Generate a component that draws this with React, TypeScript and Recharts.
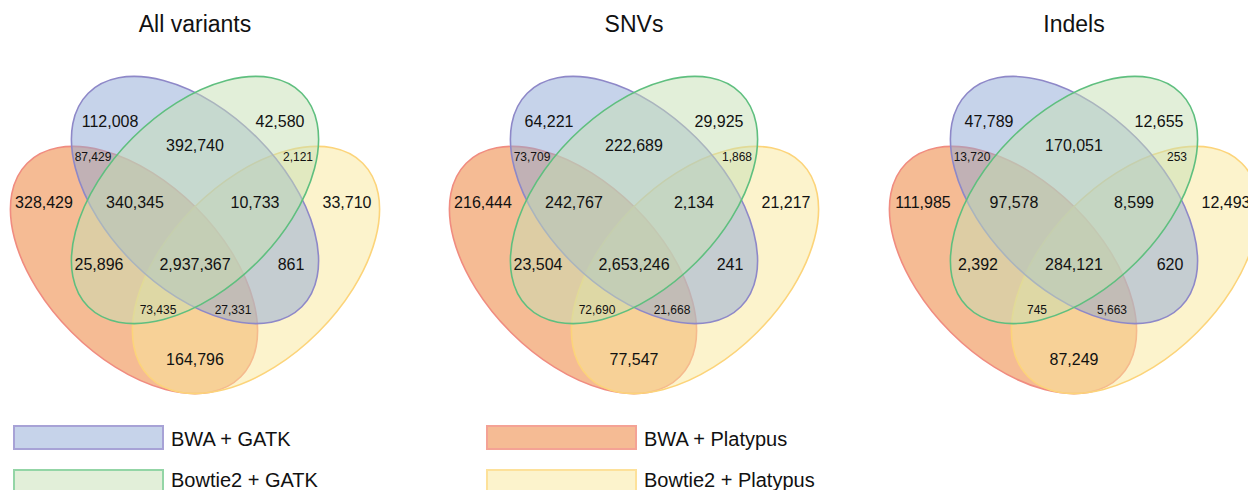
import React from "react";
import { ScatterChart, Scatter, XAxis, YAxis } from "recharts";

const panelTitles = ["All variants", "SNVs", "Indels"];

// region counts, same order as regionX / regionY below
const allVariants = [112008, 42580, 392740, 87429, 2121, 328429, 340345, 10733, 33710, 25896, 2937367, 861, 73435, 27331, 164796];
const snvs = [64221, 29925, 222689, 73709, 1868, 216444, 242767, 2134, 21217, 23504, 2653246, 241, 72690, 21668, 77547];
const indels = [47789, 12655, 170051, 13720, 253, 111985, 97578, 8599, 12493, 2392, 284121, 620, 745, 5663, 87249];
const panelValues = [allVariants, snvs, indels];

// where each region's number sits, in chart units from the middle of the top pair
const regionX = [-85, 85, 0, -102, 103, -151, -60, 60, 152, -96, 0, 96, -37, 38, 0];
const regionY = [79, 79, 55, 43, 43, -2, -2, -2, -2, -64, -64, -64, -110, -110, -159];
const smallRegions = [3, 4, 12, 13];

const setNames = ["BWA + GATK", "Bowtie2 + GATK", "BWA + Platypus", "Bowtie2 + Platypus"];

// drawing order: orange, yellow, blue, green
const ellipses = [
  { set: 2, x: -61, y: -70, angle: 45, fill: "#eb7729", stroke: "#f08c80" },
  { set: 3, x: 61, y: -70, angle: -45, fill: "#f9e799", stroke: "#fcd47a" },
  { set: 0, x: 0, y: 0, angle: 45, fill: "#8da7d5", stroke: "#8e88c8" },
  { set: 1, x: 0, y: 0, angle: -45, fill: "#c5dfb3", stroke: "#5fbf7f" },
];
const RX = 151;
const RY = 88;

const legendBoxes = [
  { bg: "#c6d3ea", border: "#a7a2d6" },
  { bg: "#e2efd9", border: "#93d5a6" },
  { bg: "#f5bb94", border: "#f4a295" },
  { bg: "#fcf3cc", border: "#fde19a" },
];

const CHART_W = 440;
const CHART_H = 410;
const X_DOMAIN: [number, number] = [-195, 245];
const Y_DOMAIN: [number, number] = [-210, 200];
const PX = CHART_W / (X_DOMAIN[1] - X_DOMAIN[0]);

const panelLeft = [0, 439, 879];
const font = "'Liberation Sans', Arial, Helvetica, sans-serif";

function VennPanel({ values }: { values: number[] }) {
  const labels = values.map((v, i) => ({
    x: regionX[i],
    y: regionY[i],
    text: v.toLocaleString("en-US"),
    small: smallRegions.includes(i),
  }));

  return (
    <ScatterChart width={CHART_W} height={CHART_H} margin={{ top: 0, right: 0, bottom: 0, left: 0 }}>
      <XAxis type="number" dataKey="x" domain={X_DOMAIN} hide />
      <YAxis type="number" dataKey="y" domain={Y_DOMAIN} hide />
      {ellipses.map((e) => (
        <Scatter
          key={e.set}
          name={setNames[e.set]}
          data={[{ x: e.x, y: e.y }]}
          isAnimationActive={false}
          shape={(p: any) => (
            <ellipse
              cx={p.cx}
              cy={p.cy}
              rx={RX * PX}
              ry={RY * PX}
              transform={`rotate(${e.angle} ${p.cx} ${p.cy})`}
              fill={e.fill}
              fillOpacity={0.5}
              stroke={e.stroke}
              strokeWidth={1.6}
            />
          )}
        />
      ))}
      <Scatter
        data={labels}
        isAnimationActive={false}
        shape={(p: any) => (
          <text
            x={p.cx}
            y={p.cy}
            dy="0.36em"
            textAnchor="middle"
            fontFamily={font}
            fontSize={p.payload.small ? 12 : 16}
            fill="#111"
          >
            {p.payload.text}
          </text>
        )}
      />
    </ScatterChart>
  );
}

export default function App() {
  return (
    <div
      style={{
        position: "absolute",
        left: 0,
        top: 0,
        width: 1248,
        height: 490,
        overflow: "hidden",
        background: "#fff",
        fontFamily: font,
        color: "#111",
      }}
    >
      {panelValues.map((vals, i) => (
        <div key={i} style={{ position: "absolute", left: panelLeft[i], top: 0, width: CHART_W, height: CHART_H }}>
          <VennPanel values={vals} />
          <div
            style={{
              position: "absolute",
              left: 0,
              top: 13,
              width: 390,
              textAlign: "center",
              fontSize: 23,
              lineHeight: "23px",
            }}
          >
            {panelTitles[i]}
          </div>
        </div>
      ))}
      {setNames.map((name, i) => {
        const col = i < 2 ? 0 : 1;
        const row = i % 2;
        const left = col === 0 ? 13 : 486;
        const top = row === 0 ? 425 : 469;
        return (
          <React.Fragment key={name}>
            <div
              style={{
                position: "absolute",
                left,
                top,
                width: 151,
                height: 25,
                boxSizing: "border-box",
                background: legendBoxes[i].bg,
                border: `2px solid ${legendBoxes[i].border}`,
              }}
            />
            <div
              style={{
                position: "absolute",
                left: left + 158,
                top: row === 0 ? 427 : 468,
                height: 25,
                lineHeight: "25px",
                fontSize: 20,
                whiteSpace: "nowrap",
              }}
            >
              {name}
            </div>
          </React.Fragment>
        );
      })}
    </div>
  );
}
